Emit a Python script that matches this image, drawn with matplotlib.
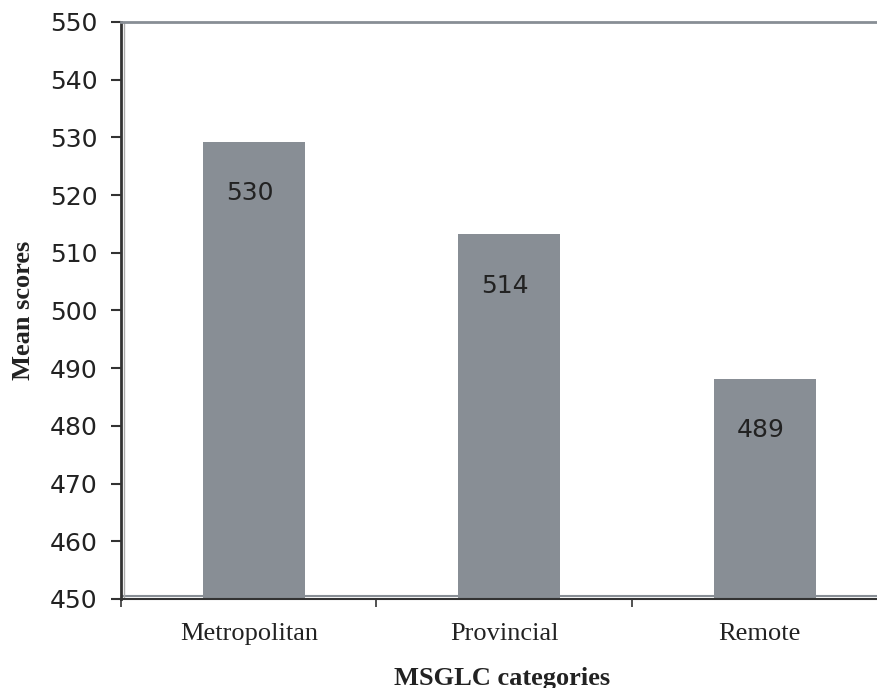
import matplotlib
matplotlib.use('Agg')
import matplotlib.pyplot as plt
import numpy as np

categories = ['Metropolitan', 'Provincial', 'Remote']
mean_scores = [529.2, 513.2, 488.2]
score_labels = ['530', '514', '489']
y_ticks = [450, 460, 470, 480, 490, 500, 510, 520, 530, 540, 550]

bar_color = '#888e95'
dark = '#333333'

fig = plt.figure(figsize=(8.78, 6.88), dpi=100)
ax = fig.add_axes([121 / 878, 89 / 688, 757 / 878, 577 / 688])

x = np.arange(len(categories))
bars = ax.bar(x + 0.02, mean_scores, width=0.4, color=bar_color, zorder=2)

for rect, lab in zip(bars, score_labels):
    ax.annotate(lab, (rect.get_x() + rect.get_width() / 2, rect.get_height()),
                xytext=(-3, -37), textcoords='offset points',
                ha='center', va='center', fontsize=18, color='#222222',
                family='DejaVu Sans')

ax.set_ylim(450, 550)
ax.set_xlim(-0.5, 2.463)
ax.set_yticks(y_ticks)
ax.tick_params(axis='y', direction='out', length=7, width=1.5, color=dark,
               labelsize=18, pad=10, labelcolor='#222222')

# category boundaries as ticks, names centred between them
ax.set_xticks([-0.5, 0.5, 1.5])
ax.set_xticklabels([])
ax.set_xticks(x, minor=True)
ax.set_xticklabels(categories, minor=True, family='Liberation Serif',
                   fontsize=19, color='#222222')
ax.tick_params(axis='x', which='major', direction='out', length=6, width=1.2,
               color=dark)
ax.tick_params(axis='x', which='minor', length=0, pad=17)

ax.spines['right'].set_visible(False)
ax.spines['top'].set_color(bar_color)
ax.spines['top'].set_linewidth(2)
ax.spines['left'].set_color(dark)
ax.spines['left'].set_linewidth(2)
ax.spines['bottom'].set_color(dark)
ax.spines['bottom'].set_linewidth(1.5)
ax.axhline(450.5, color=bar_color, lw=1.5, zorder=1)
ax.axvline(-0.49, color='#aaaaaa', lw=1, zorder=1)

ax.set_xlabel('MSGLC categories', family='Liberation Serif', fontweight='bold',
              fontsize=19, color='#222222')
ax.set_ylabel('Mean scores', family='Liberation Serif', fontweight='bold',
              fontsize=19, color='#222222')
ax.yaxis.set_label_coords(-0.114, 0.5)
ax.xaxis.set_label_coords(0.504, -0.117)

fig.savefig('out.png', dpi=100)
